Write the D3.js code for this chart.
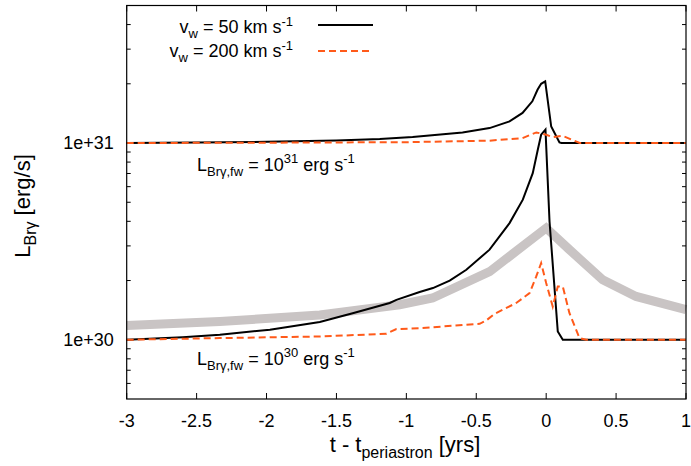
<!DOCTYPE html>
<meta charset="utf-8">
<script src="https://d3js.org/d3.v7.min.js"></script>
<style>
  body { margin: 0; background: #fff; }
  text { font-family: "Liberation Sans", Arial, sans-serif; fill: #000; }
</style>
<svg width="691" height="466"></svg>
<script>

// time relative to periastron [yrs] and L_Bry [erg/s]
var tFast50 = [-3, -2.5, -2, -1.5, -1.19, -0.955, -0.598, -0.405, -0.262, -0.169, -0.099, -0.062, -0.036, -0.007, 0.036, 0.095, 0.11, 1];
var lFast50 = [1.0e31, 1.005e31, 1.015e31, 1.03e31, 1.047e31, 1.074e31, 1.132e31, 1.191e31, 1.288e31, 1.422e31, 1.629e31, 1.866e31, 2.0e31, 2.056e31, 1.213e31, 1.007e31, 1.0e31, 1.0e31];

var tFast200 = [-3, -2, -1, -0.405, -0.169, -0.07, 0.0, 0.045, 0.116, 0.24, 1];
var lFast200 = [1.0e31, 1.004e31, 1.01e31, 1.028e31, 1.059e31, 1.132e31, 1.102e31, 1.072e31, 1.089e31, 1.0e31, 1.0e31];

var tLow50 = [-3, -2.6, -2.334, -1.976, -1.619, -1.384, -1.119, -1.071, -0.905, -0.810, -0.69, -0.571, -0.405, -0.262, -0.167, -0.096, -0.060, -0.036, -0.005, 0.024, 0.083, 0.119, 1];
var lLow50 = [1.0e30, 1.03e30, 1.060e30, 1.125e30, 1.230e30, 1.365e30, 1.538e30, 1.596e30, 1.750e30, 1.832e30, 2.0e30, 2.270e30, 2.871e30, 3.917e30, 5.152e30, 7.031e30, 9.247e30, 1.102e31, 1.169e31, 3.990e30, 1.102e30, 1.0e30, 1.0e30];

var tLow200 = [-3, -2.334, -1.619, -1.143, -1.071, -0.905, -0.476, -0.429, -0.369, -0.214, -0.119, -0.071, -0.036, 0.0, 0.047, 0.083, 0.119, 0.166, 0.238, 0.286, 1];
var lLow200 = [1.0e30, 1.020e30, 1.039e30, 1.073e30, 1.133e30, 1.146e30, 1.205e30, 1.253e30, 1.355e30, 1.538e30, 1.726e30, 2.099e30, 2.455e30, 1.941e30, 1.476e30, 1.866e30, 1.866e30, 1.368e30, 1.021e30, 1.0e30, 1.0e30];

var tGrey = [-3, -2.334, -1.619, -1.048, -0.812, -0.405, 0.0, 0.166, 0.404, 0.643, 1];
var lGrey = [1.182e30, 1.239e30, 1.335e30, 1.507e30, 1.63e30, 2.218e30, 3.698e30, 2.871e30, 2.018e30, 1.660e30, 1.422e30];

var xTicks = [-3, -2.5, -2, -1.5, -1, -0.5, 0, 0.5, 1];
var yTicks = [1e30, 1e31];

var margin = {top: 5.5, right: 5, bottom: 67, left: 126.7},
    width = 691 - margin.left - margin.right,
    height = 466 - margin.top - margin.bottom;

var svg = d3.select("svg")
  .append("g")
    .attr("transform", "translate(" + margin.left + "," + margin.top + ")");

var x = d3.scaleLinear().domain([-3, 1]).range([0, width]);
var y = d3.scaleLog().domain([5e29, 5e31]).range([height, 0]);

// minor log ticks
var minor = [];
[1e29, 1e30, 1e31].forEach(function (d) {
  for (var k = 2; k <= 9; k++) {
    var v = d * k;
    if (v > 5e29 && v < 5e31) minor.push(v);
  }
});

function pack(ts, ls) {
  return ts.map(function (t, i) { return [t, ls[i]]; });
}
var line = d3.line()
  .x(function (d) { return x(d[0]); })
  .y(function (d) { return y(d[1]); });

// ticks (mirrored on all sides, pointing inward)
var tk = svg.append("g").attr("stroke", "#000").attr("stroke-width", 1);
xTicks.forEach(function (t) {
  tk.append("line").attr("x1", x(t)).attr("x2", x(t)).attr("y1", height).attr("y2", height - 6);
  tk.append("line").attr("x1", x(t)).attr("x2", x(t)).attr("y1", 0).attr("y2", 6);
});
yTicks.forEach(function (v) {
  tk.append("line").attr("x1", 0).attr("x2", 7).attr("y1", y(v)).attr("y2", y(v));
  tk.append("line").attr("x1", width).attr("x2", width - 7).attr("y1", y(v)).attr("y2", y(v));
});
minor.forEach(function (v) {
  tk.append("line").attr("x1", 0).attr("x2", 4).attr("y1", y(v)).attr("y2", y(v));
  tk.append("line").attr("x1", width).attr("x2", width - 4).attr("y1", y(v)).attr("y2", y(v));
});

// tick labels
svg.append("g").selectAll("text").data(xTicks).enter().append("text")
  .attr("x", function (d) { return x(d); })
  .attr("y", height + 28)
  .attr("text-anchor", "middle")
  .style("font-size", "18px")
  .text(function (d) { return d; });

svg.append("g").selectAll("text").data(yTicks).enter().append("text")
  .attr("x", -13)
  .attr("y", function (d) { return y(d) + 6; })
  .attr("text-anchor", "end")
  .style("font-size", "18px")
  .text(function (d) { return "1e+" + Math.round(Math.log10(d)); });

// curves
svg.append("path").datum(pack(tGrey, lGrey)).attr("d", line)
  .attr("fill", "none").attr("stroke", "#c9c4c4").attr("stroke-width", 9);

[pack(tFast50, lFast50), pack(tLow50, lLow50)].forEach(function (d) {
  svg.append("path").datum(d).attr("d", line)
    .attr("fill", "none").attr("stroke", "#000").attr("stroke-width", 2);
});
[pack(tFast200, lFast200), pack(tLow200, lLow200)].forEach(function (d) {
  svg.append("path").datum(d).attr("d", line)
    .attr("fill", "none").attr("stroke", "#ff5a1a").attr("stroke-width", 2)
    .attr("stroke-dasharray", "7,4");
});

// frame
svg.append("rect").attr("width", width).attr("height", height)
  .attr("fill", "none").attr("stroke", "#000").attr("stroke-width", 1.2);

// legend
var lg = svg.append("g").style("font-size", "18px");
var t1 = lg.append("text").attr("x", 293 - margin.left).attr("y", 33 - margin.top).attr("text-anchor", "end");
t1.append("tspan").text("v");
t1.append("tspan").attr("dy", 5).style("font-size", "13px").text("w");
t1.append("tspan").attr("dy", -5).text(" = 50 km s");
t1.append("tspan").attr("dy", -7).style("font-size", "13px").text("-1");
lg.append("line").attr("x1", 318 - margin.left).attr("x2", 373 - margin.left)
  .attr("y1", 25 - margin.top).attr("y2", 25 - margin.top)
  .attr("stroke", "#000").attr("stroke-width", 2);

var t2 = lg.append("text").attr("x", 293 - margin.left).attr("y", 57 - margin.top).attr("text-anchor", "end");
t2.append("tspan").text("v");
t2.append("tspan").attr("dy", 5).style("font-size", "13px").text("w");
t2.append("tspan").attr("dy", -5).text(" = 200 km s");
t2.append("tspan").attr("dy", -7).style("font-size", "13px").text("-1");
lg.append("line").attr("x1", 318 - margin.left).attr("x2", 373 - margin.left)
  .attr("y1", 51 - margin.top).attr("y2", 51 - margin.top)
  .attr("stroke", "#ff5a1a").attr("stroke-width", 2).attr("stroke-dasharray", "7,4");

// annotations for the fixed fw luminosities
function fwLabel(px, py, exp) {
  var t = svg.append("text").attr("x", px - margin.left).attr("y", py - margin.top)
    .style("font-size", "18px");
  t.append("tspan").text("L");
  t.append("tspan").attr("dy", 5).style("font-size", "13px").text("Brγ,fw");
  t.append("tspan").attr("dy", -5).text(" = 10");
  t.append("tspan").attr("dy", -8).style("font-size", "13px").text(exp);
  t.append("tspan").attr("dy", 8).text(" erg s");
  t.append("tspan").attr("dy", -8).style("font-size", "13px").text("-1");
}
fwLabel(197, 171, "31");
fwLabel(197, 365, "30");

// axis titles
var xt = svg.append("text").attr("x", 405 - margin.left).attr("y", 452 - margin.top)
  .attr("text-anchor", "middle").style("font-size", "22px");
xt.append("tspan").text("t - t");
xt.append("tspan").attr("dy", 6).style("font-size", "16px").text("periastron");
xt.append("tspan").attr("dy", -6).text(" [yrs]");

var yt = svg.append("text")
  .attr("transform", "translate(" + (30 - margin.left) + "," + (206 - margin.top) + ") rotate(-90)")
  .attr("text-anchor", "middle").style("font-size", "22px");
yt.append("tspan").text("L");
yt.append("tspan").attr("dy", 6).style("font-size", "16px").text("Brγ");
yt.append("tspan").attr("dy", -6).text(" [erg/s]");

</script>
